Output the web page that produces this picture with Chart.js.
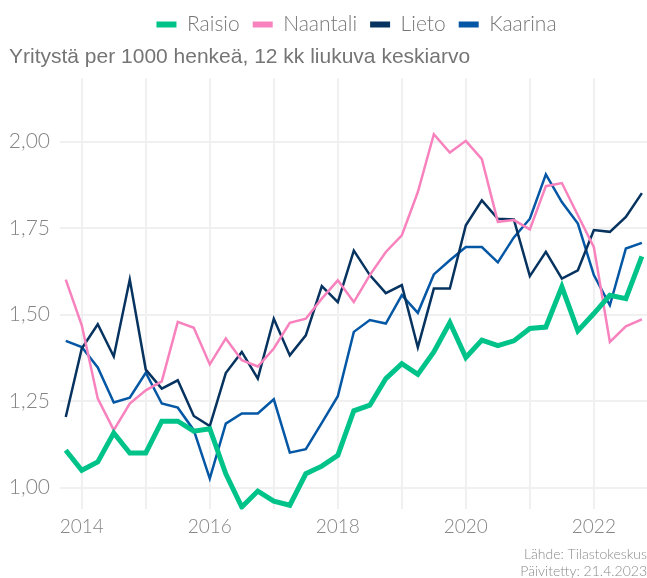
<!DOCTYPE html>
<html>
<head>
<meta charset="utf-8">
<script src="https://cdn.jsdelivr.net/npm/chart.js@4"></script>
<style>
  html, body { margin: 0; padding: 0; background: #ffffff; }
  #wrap { width: 647px; height: 578px; }
</style>
</head>
<body>
<div id="wrap"><canvas id="yrityksetChart"></canvas></div>
<script>
// Quarter positions as decimal years (Q4 2013 ... Q4 2022)
const quarters = [
    2013.75, 2014.00, 2014.25, 2014.50, 2014.75, 2015.00, 2015.25, 2015.50, 2015.75,
    2016.00, 2016.25, 2016.50, 2016.75, 2017.00, 2017.25, 2017.50, 2017.75,
    2018.00, 2018.25, 2018.50, 2018.75, 2019.00, 2019.25, 2019.50, 2019.75,
    2020.00, 2020.25, 2020.50, 2020.75, 2021.00, 2021.25, 2021.50, 2021.75,
    2022.00, 2022.25, 2022.50, 2022.75
];

const raisio = [
    1.108, 1.050, 1.074, 1.158, 1.100, 1.100, 1.192, 1.192, 1.163,
    1.170, 1.040, 0.944, 0.990, 0.961, 0.949, 1.040, 1.062,
    1.093, 1.222, 1.238, 1.315, 1.358, 1.327, 1.392, 1.477,
    1.376, 1.426, 1.410, 1.424, 1.460, 1.464, 1.580, 1.453,
    1.503, 1.556, 1.546, 1.668
];

const naantali = [
    1.601, 1.469, 1.257, 1.166, 1.243, 1.281, 1.307, 1.479, 1.462,
    1.356, 1.431, 1.368, 1.350, 1.402, 1.476, 1.488, 1.546,
    1.599, 1.536, 1.614, 1.681, 1.729, 1.854, 2.021, 1.968,
    2.002, 1.949, 1.768, 1.773, 1.746, 1.871, 1.880, 1.787,
    1.695, 1.421, 1.466, 1.486
];

const lieto = [
    1.204, 1.402, 1.472, 1.379, 1.601, 1.341, 1.286, 1.310, 1.207,
    1.178, 1.331, 1.392, 1.315, 1.488, 1.382, 1.440, 1.582,
    1.536, 1.685, 1.614, 1.562, 1.585, 1.405, 1.575, 1.575,
    1.758, 1.830, 1.777, 1.775, 1.611, 1.681, 1.604, 1.628,
    1.744, 1.739, 1.782, 1.851
];

const kaarina = [
    1.424, 1.406, 1.347, 1.246, 1.260, 1.332, 1.243, 1.231, 1.166,
    1.026, 1.185, 1.214, 1.214, 1.255, 1.101, 1.111, 1.187,
    1.264, 1.450, 1.484, 1.474, 1.556, 1.505, 1.616, 1.657,
    1.695, 1.695, 1.651, 1.723, 1.777, 1.905, 1.825, 1.763,
    1.614, 1.527, 1.691, 1.707
];

const xTicks = [2014, 2015, 2016, 2017, 2018, 2019, 2020, 2021, 2022];
const yTicks = [1.00, 1.25, 1.50, 1.75, 2.00];

const toPoints = function(values) {
    return values.map(function(v, i) { return { x: quarters[i], y: v }; });
};

// legend sits right of centre and the title is indented a little in the original
const blockShift = {
    id: 'blockShift',
    afterLayout: function(chart) {
        chart.legend.left += 33;
        chart.legend.right += 33;
        chart.titleBlock.left += 9;
        chart.titleBlock.right += 9;
    }
};

const ctx = document.getElementById('yrityksetChart').getContext('2d');
new Chart(ctx, {
    type: 'line',
    data: {
        datasets: [
            { label: 'Raisio', data: toPoints(raisio), borderColor: '#00c389', backgroundColor: '#00c389', borderWidth: 5 },
            { label: 'Naantali', data: toPoints(naantali), borderColor: '#f782bd', backgroundColor: '#f782bd', borderWidth: 2.5 },
            { label: 'Lieto', data: toPoints(lieto), borderColor: '#06335f', backgroundColor: '#06335f', borderWidth: 2.5 },
            { label: 'Kaarina', data: toPoints(kaarina), borderColor: '#0357a4', backgroundColor: '#0357a4', borderWidth: 2.5 }
        ]
    },
    options: {
        responsive: true,
        maintainAspectRatio: false,
        animation: false,
        layout: { padding: { left: 0, right: 0, top: 1, bottom: -2 } },
        elements: {
            point: { radius: 0 },
            line: { tension: 0, borderJoinStyle: 'miter' }
        },
        plugins: {
            legend: {
                position: 'top',
                weight: 3000,
                labels: {
                    boxWidth: 20,
                    boxHeight: 6,
                    padding: 13,
                    color: '#777777',
                    font: { family: 'Lato', size: 21, weight: 300 },
                    generateLabels: function(chart) {
                        return Chart.defaults.plugins.legend.labels.generateLabels(chart).map(function(item) {
                            item.lineWidth = 0;
                            return item;
                        });
                    }
                }
            },
            title: {
                display: true,
                text: 'Yritystä per 1000 henkeä, 12 kk liukuva keskiarvo',
                align: 'start',
                color: '#757575',
                font: { family: 'Liberation Sans', size: 21, weight: 'normal' },
                padding: { top: 0, bottom: 8 }
            },
            subtitle: {
                display: true,
                position: 'bottom',
                align: 'end',
                text: ['Lähde: Tilastokeskus', 'Päivitetty: 21.4.2023'],
                color: '#8a8a8a',
                font: { family: 'Lato', size: 14, weight: 300, lineHeight: 1.2 },
                padding: { top: 0, bottom: 0 }
            },
            tooltip: { enabled: false }
        },
        scales: {
            x: {
                type: 'linear',
                min: 2013.66,
                max: 2022.83,
                afterBuildTicks: function(scale) {
                    scale.ticks = xTicks.map(function(v) { return { value: v }; });
                },
                afterFit: function(scale) {
                    scale.height = 37;
                },
                grid: { color: '#f0f0f0', lineWidth: 2, drawTicks: false },
                border: { display: false },
                ticks: {
                    autoSkip: false,
                    maxRotation: 0,
                    padding: 6,
                    color: '#858585',
                    font: { family: 'Lato', size: 19, weight: 300 },
                    callback: function(value) {
                        return value % 2 === 0 ? String(value) : '';
                    }
                }
            },
            y: {
                min: 0.937,
                max: 2.183,
                afterBuildTicks: function(scale) {
                    scale.ticks = yTicks.map(function(v) { return { value: v }; });
                },
                afterFit: function(scale) {
                    scale.width = 60;
                },
                grid: { color: '#f0f0f0', lineWidth: 2, drawTicks: false },
                border: { display: false },
                ticks: {
                    padding: 10,
                    color: '#858585',
                    font: { family: 'Lato', size: 21, weight: 300 },
                    callback: function(value) {
                        return value.toFixed(2).replace('.', ',');
                    }
                }
            }
        }
    },
    plugins: [blockShift]
});
</script>
</body>
</html>
